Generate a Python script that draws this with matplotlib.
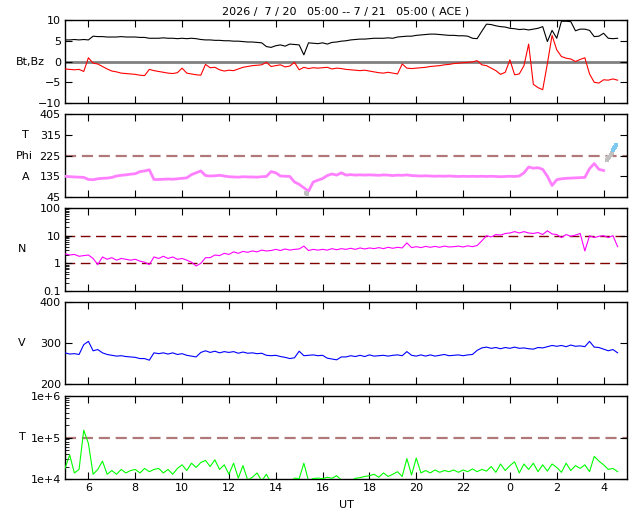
import numpy as np
import matplotlib
matplotlib.use("Agg")
import matplotlib.pyplot as plt
from matplotlib.ticker import FixedLocator, FixedFormatter, LogLocator, NullFormatter

plt.rcParams['font.family'] = ['DejaVu Sans']
plt.rcParams['font.size'] = 8

# time grid (hours since 2026-07-20 00:00 UT), 0.2 h sampling
hours = np.round(np.arange(5.0, 28.61, 0.2), 1)

bt = [
    5.2, 5.2, 5.3, 5.2, 5.3,
    5.2, 6.1, 6.0, 6.0, 5.9,
    5.9, 5.9, 6.0, 5.9, 5.9,
    5.9, 5.8, 5.8, 5.6, 5.6,
    5.6, 5.7, 5.6, 5.6, 5.5,
    5.6, 5.5, 5.6, 5.5, 5.3,
    5.2, 5.2, 5.1, 5.1, 5.0,
    5.0, 4.9, 4.9, 4.8, 4.7,
    4.7, 4.6, 4.5, 3.6, 3.4,
    3.8, 4.0, 3.7, 4.2, 4.1,
    4.0, 1.6, 4.5, 4.4, 4.3,
    4.5, 4.2, 4.6, 4.7, 4.9,
    5.0, 5.2, 5.3, 5.4, 5.4,
    5.5, 5.6, 5.6, 5.6, 5.7,
    5.6, 5.9, 6.0, 6.1, 6.1,
    6.3, 6.4, 6.5, 6.6, 6.6,
    6.5, 6.4, 6.3, 6.3, 6.2,
    6.2, 6.1, 5.6, 5.5, 7.3,
    9.0, 8.9, 8.6, 8.4, 8.3,
    8.0, 7.9, 7.7, 7.8, 7.6,
    7.8, 8.0, 8.4, 4.8, 7.5,
    5.6, 9.7, 9.7, 9.6, 7.4,
    7.8, 7.8, 7.5, 6.0, 6.1,
    6.8, 5.6, 5.5, 5.6,
]

bz = [
    -1.8, -1.9, -2.0, -1.9, -2.4,
    0.9, -0.4, -0.6, -1.2, -1.8,
    -2.3, -2.5, -2.8, -2.9, -3.0,
    -3.1, -3.3, -3.4, -1.9, -2.2,
    -2.4, -2.6, -2.8, -2.9, -2.7,
    -1.6, -2.8, -3.0, -3.2, -3.3,
    -0.7, -1.5, -1.4, -2.0, -2.3,
    -2.1, -2.2, -1.8, -1.4, -1.2,
    -1.0, -0.9, -0.8, -0.2, -1.2,
    -1.0, -0.8, -1.3, -1.1, -0.2,
    -2.0, -1.4, -1.7, -1.5, -1.6,
    -1.5, -1.4, -1.8, -1.6, -1.7,
    -1.9, -2.0, -2.1, -2.2, -2.1,
    -2.3, -2.5, -2.7, -2.8, -2.6,
    -2.8, -3.0, -0.6, -1.6, -1.7,
    -1.6, -1.5, -1.4, -1.2, -1.1,
    -1.0, -0.8, -0.7, -0.5, -0.4,
    -0.3, -0.2, -0.1, 0.2, -0.8,
    -1.0, -1.6, -2.2, -3.1, -2.6,
    0.4, -3.2, -3.0, -1.0, 4.2,
    -5.5, -6.3, -6.8, -0.5, 6.3,
    2.8, 1.2, 0.8, 0.6, 0.0,
    0.5, 0.9, -3.0, -5.0, -5.2,
    -4.4, -4.5, -4.2, -4.5,
]

phi = [
    135, 133, 132, 131, 130,
    121, 120, 124, 126, 127,
    130, 136, 139, 141, 144,
    146, 155, 158, 163, 121,
    121, 122, 123, 122, 124,
    126, 128, 142, 150, 158,
    138, 136, 137, 139, 136,
    133, 132, 131, 133, 132,
    132, 131, 133, 134, 155,
    150, 136, 135, 134, 110,
    100, 85, 70, 110, 118,
    125, 138, 145, 140, 150,
    140, 142, 140, 141, 140,
    141, 140, 139, 141, 140,
    138, 140, 139, 141, 138,
    137, 136, 137, 136, 135,
    136, 135, 136, 135, 134,
    135, 134, 135, 134, 135,
    134, 135, 134, 133, 134,
    135, 134, 136, 150, 175,
    170, 172, 165, 135, 95,
    120, 124, 126, 127, 128,
    129, 130, 168, 190, 165,
    160,
]
phi_gray_t = [15.3, 15.35, 28.15, 28.2, 28.25, 28.3, 28.35]
phi_gray_v = [62, 58, 205, 212, 220, 228, 236]
phi_blue_t = [28.4, 28.45, 28.5, 28.55]
phi_blue_v = [248, 256, 264, 271]

dens = [
    2.2, 2.0, 2.1, 1.8, 1.9,
    2.0, 1.5, 0.9, 1.7, 1.4,
    1.6, 1.3, 1.5, 1.4, 1.3,
    1.4, 1.2, 1.1, 0.9, 1.7,
    1.5, 1.8, 1.5, 1.7, 1.4,
    1.5, 1.3, 1.1, 0.8, 1.0,
    1.6, 1.6, 2.0, 1.9, 2.3,
    2.1, 2.6, 2.3, 2.7, 2.5,
    2.8, 2.6, 3.0, 2.8, 2.9,
    3.2, 2.9, 3.3, 3.0, 3.2,
    3.3, 4.2, 2.9, 3.2, 3.0,
    3.2, 3.0, 3.4, 3.1, 3.4,
    3.2, 3.5, 3.2, 3.6, 3.3,
    3.6, 3.4, 3.7, 3.4, 3.8,
    3.5, 3.8, 3.6, 5.5, 3.7,
    4.0, 3.7, 4.1, 3.8, 4.1,
    3.8, 4.2, 3.9, 4.0, 4.2,
    3.9, 4.3, 4.0, 4.4, 6.5,
    10.0, 9.0, 11.0, 10.5, 12.0,
    12.5, 14.0, 12.5, 14.0, 12.5,
    12.0, 13.0, 11.0, 15.0, 11.5,
    11.0, 8.5, 11.0, 9.5, 10.5,
    12.0, 2.8, 10.0, 8.5, 9.5,
    10.0, 8.5, 10.0, 4.0,
]

speed = [
    276, 273, 274, 272, 296,
    304, 281, 284, 276, 272,
    270, 268, 269, 267, 266,
    265, 262, 262, 258, 276,
    274, 276, 273, 276, 272,
    274, 270, 268, 266, 277,
    281, 277, 280, 276, 279,
    277, 279, 275, 278, 275,
    276, 274, 275, 270, 269,
    270, 267, 265, 262, 264,
    280, 269, 270, 271, 269,
    270, 263, 261, 259, 266,
    266, 269, 267, 270, 267,
    271, 268, 269, 270, 268,
    270, 271, 269, 279, 270,
    268, 271, 268, 271, 268,
    270, 272, 269, 270, 271,
    269, 271, 272, 282, 288,
    290, 287, 289, 286, 289,
    287, 290, 287, 288, 286,
    285, 289, 288, 291, 294,
    292, 294, 291, 295, 292,
    293, 291, 304, 290, 289,
    285, 281, 284, 276,
]

temp = [
    18000, 38000, 14000, 17000, 150000,
    72000, 13000, 17000, 27000, 13000,
    16000, 13000, 17000, 14000, 16000,
    17000, 14000, 18000, 15000, 17000,
    18000, 14000, 17000, 13000, 18000,
    22000, 16000, 24000, 19000, 25000,
    28000, 20000, 29000, 17000, 22000,
    13000, 24000, 10500, 21000, 9500,
    11000, 14000, 9000, 13000, 8000,
    9000, 8000, 9000, 8000, 10500,
    10200, 24000, 9000, 10300, 10500,
    10200, 11000, 10400, 12000, 9500,
    8000, 9000, 10400, 10800, 11500,
    12000, 13000, 11000, 14000, 11500,
    13000, 15000, 11500, 31000, 12500,
    32000, 14000, 16000, 14000, 16500,
    14500, 16000, 15000, 16500, 14500,
    16500, 15000, 17500, 15000, 17000,
    15500, 20000, 14500, 23000, 16000,
    21000, 26000, 14000, 23000, 17000,
    24000, 15000, 22000, 15500, 23000,
    19000, 14500, 24000, 16000, 21000,
    18000, 22000, 15000, 35000, 27000,
    22000, 17000, 18000, 15000,
]

xtick_hours = list(range(6, 29, 2))
xtick_labels = [str(h % 24) for h in xtick_hours]

title = "2026 /  7 / 20   05:00 -- 7 / 21   05:00 ( ACE )"

W, H = 640, 512
fig = plt.figure(figsize=(6.4, 5.12), dpi=100)

def px_axes(top, bottom):
    return fig.add_axes([65 / W, 1 - bottom / H, (627 - 65) / W, (bottom - top) / H])

panels = [(20, 103), (114, 197), (208, 291), (302, 384), (396, 479)]
axes = [px_axes(t, b) for t, b in panels]

for ax in axes:
    ax.set_xlim(5, 29)
    ax.xaxis.set_major_locator(FixedLocator(xtick_hours))
    ax.tick_params(axis='both', which='major', direction='in', length=5,
                   top=True, right=True, labelsize=8, colors='black', pad=3)
    ax.tick_params(axis='both', which='minor', direction='in', length=3,
                   top=False, right=False)
    for s in ax.spines.values():
        s.set_linewidth(1.0)
    ax.set_xticklabels([])

# Panel 1: Bt, Bz
ax = axes[0]
ax.axhline(0, color='#808080', lw=2.0, zorder=1)
ax.plot(hours[:len(bt)], bt, color='black', lw=0.8, zorder=3)
ax.plot(hours[:len(bz)], bz, color='red', lw=0.8, zorder=3)
ax.set_ylim(-10, 10)
ax.set_yticks([-10, -5, 0, 5, 10])

# Panel 2: Phi
ax = axes[1]
ax.axhline(225, color='#b07878', lw=1.6, dashes=(5, 2.6), zorder=1)
ax.plot(hours[:len(phi)], phi, color='#ff80ff', lw=2.0, zorder=3)
ax.scatter(phi_gray_t, phi_gray_v, s=5, color='#c0c0c0', marker='s', lw=0, zorder=4)
ax.scatter(phi_blue_t, phi_blue_v, s=6, color='#7fc8f0', marker='s', lw=0, zorder=4)
ax.set_ylim(45, 405)
ax.set_yticks([45, 135, 225, 315, 405])

# Panel 3: N
ax = axes[2]
ax.set_yscale('log')
ax.axhline(10, color='#800000', lw=1.0, dashes=(7, 4), zorder=1)
ax.axhline(1, color='#800000', lw=1.0, dashes=(7, 4), zorder=1)
ax.plot(hours[:len(dens)], dens, color='#ff00ff', lw=0.8, zorder=3)
ax.set_ylim(0.1, 100)
ax.yaxis.set_major_locator(FixedLocator([0.1, 1, 10, 100]))
ax.yaxis.set_major_formatter(FixedFormatter(['0.1', '1', '10', '100']))
ax.yaxis.set_minor_locator(LogLocator(base=10, subs=np.arange(2, 10)))
ax.yaxis.set_minor_formatter(NullFormatter())
ax.tick_params(axis='y', which='minor', left=True, right=False, length=3)

# Panel 4: V
ax = axes[3]
ax.plot(hours[:len(speed)], speed, color='#0000ff', lw=0.8, zorder=3)
ax.set_ylim(200, 400)
ax.set_yticks([200, 300, 400])

# Panel 5: T
ax = axes[4]
ax.set_yscale('log')
ax.axhline(1e5, color='#b07878', lw=1.6, dashes=(5, 2.6), zorder=1)
ax.plot(hours[:len(temp)], temp, color='#00ff00', lw=0.8, zorder=3)
ax.set_ylim(1e4, 1e6)
ax.yaxis.set_major_locator(FixedLocator([1e4, 1e5, 1e6]))
ax.yaxis.set_major_formatter(FixedFormatter(['1e+4', '1e+5', '1e+6']))
ax.yaxis.set_minor_locator(LogLocator(base=10, subs=np.arange(2, 10)))
ax.yaxis.set_minor_formatter(NullFormatter())
ax.tick_params(axis='y', which='minor', left=True, right=False, length=3)
ax.set_xticklabels(xtick_labels)

# Texts
def ftext(x, y, s, **kw):
    fig.text(x / W, 1 - y / H, s, va='center', fontsize=8, **kw)

ftext(346, 12, title, ha='center')
ftext(346, 505, 'UT', ha='center')
ftext(45, 62, 'Bt,Bz', ha='right')
ftext(25, 135, 'T', ha='center')
ftext(33, 156, 'Phi', ha='right')
ftext(26, 177, 'A', ha='center')
ftext(22, 249, 'N', ha='center')
ftext(22, 343, 'V', ha='center')
ftext(22, 437, 'T', ha='center')

fig.savefig('out.png', dpi=100)
